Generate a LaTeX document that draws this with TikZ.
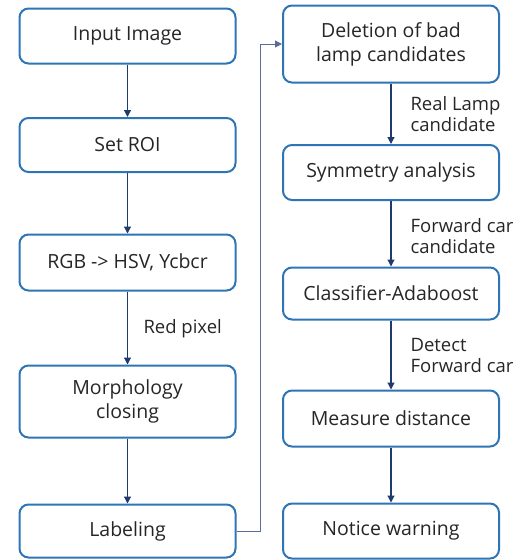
\documentclass[tikz,border=0pt]{standalone}
\usepackage{fontspec}
\setsansfont{Open Sans}
\usetikzlibrary{arrows.meta, positioning}
\definecolor{boxblue}{HTML}{2E75B6}
\definecolor{arrownavy}{HTML}{1F3A6E}
\definecolor{loopgrey}{HTML}{5A6A9A}
\tikzset{
  stage/.style={draw=boxblue, line width=2pt, rounded corners=9pt, fill=white,
    minimum width=216pt, align=center, text=black!85, font=\sffamily\fontsize{19.5}{24}\selectfont},
  flow/.style={draw=arrownavy, line width=1.2pt, -{Triangle[width=7pt,length=7pt]}},
  note/.style={anchor=west, align=left, text=black!85, font=\sffamily\fontsize{18.5}{21}\selectfont}
}
\begin{document}
\begin{tikzpicture}[x=1pt,y=-1pt]
\useasboundingbox (0,0) rectangle (523,560);
% left column
\node[stage, minimum height=55pt] (input) at (127.5,36) {Input Image};
\node[stage, minimum height=54pt] (roi) at (127.5,145) {Set ROI};
\node[stage, minimum height=56pt] (rgb) at (127.5,262.5) {RGB -> HSV, Ycbcr};
\node[stage, minimum height=72pt] (morph) at (127.5,401.5) {Morphology\\closing};
\node[stage, minimum height=53pt] (label) at (127.5,531) {Labeling};
% right column
\node[stage, minimum height=77pt] (del) at (391,44) {Deletion of bad\\lamp candidates};
\node[stage, minimum height=55pt] (sym) at (391,172.5) {Symmetry analysis};
\node[stage, minimum height=52pt] (cls) at (391,293.5) {Classifier-Adaboost};
\node[stage, minimum height=56pt] (meas) at (391,418.5) {Measure distance};
\node[stage, minimum height=55pt] (notice) at (391,531) {Notice warning};

\draw[flow] (input) -- (roi);
\draw[flow] (roi) -- (rgb);
\draw[flow] (rgb) -- (morph);
\draw[flow] (morph) -- (label);
\draw[flow] (del) -- (sym);
\draw[flow] (sym) -- (cls);
\draw[flow] (cls) -- (meas);
\draw[flow] (meas) -- (notice);
\draw[draw=loopgrey, line width=1pt, -{Triangle[width=7pt,length=7pt]}]
  (label.east) -- ++(24,0) coordinate (turn) |- (del.west);

\node[note] (redpx) at (140,329) {Red pixel};
\node[note] (lamp) at (407,114) {Real Lamp\\candidate};
\node[note] (fwd) at (407,236) {Forward car\\candidate};
\node[note] (det) at (407,355) {Detect\\Forward car};
\end{tikzpicture}
\end{document}
